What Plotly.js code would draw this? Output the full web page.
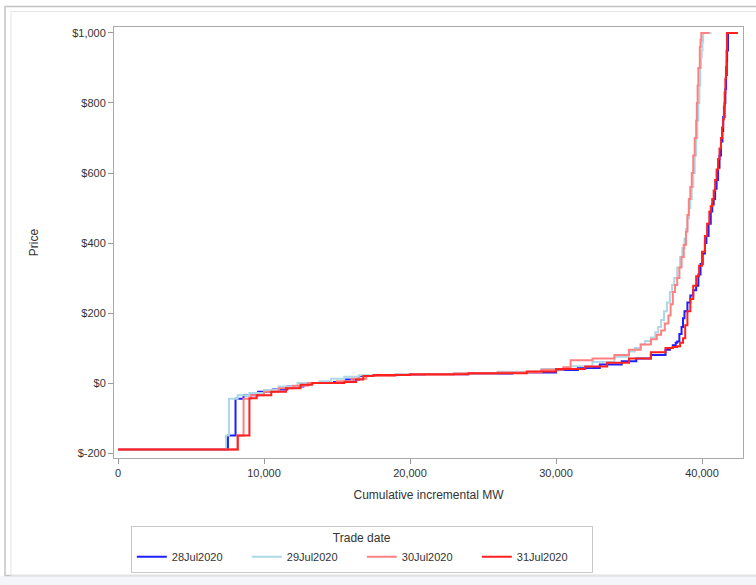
<!DOCTYPE html>
<html>
<head>
<meta charset="utf-8">
<script src="https://cdn.plot.ly/plotly-3.0.1.min.js"></script>
<style>html,body{margin:0;padding:0;background:#fff;}#chart{width:756px;height:585px;}</style>
</head>
<body>
<div id="chart"></div>
<script>
// Cumulative incremental MW (x) and price (y) for each trade date
const seriesNames = ["28Jul2020", "29Jul2020", "30Jul2020", "31Jul2020"];

const mw28 = [0, 7530, 8050, 8600, 9600, 10600, 11600, 12700, 14800, 15600, 16500, 17800, 21000, 24000, 27000, 30000, 31500, 33000, 34500, 35500, 36500, 37500, 37800, 38000, 38200, 38300, 38450, 38600, 38700, 38800, 39000, 39200, 39400, 39600, 39750, 39900, 40050, 40200, 40300, 40450, 40600, 40700, 40800, 40900, 41000, 41100, 41200, 41300, 41400, 41450, 41550, 41600, 41650, 41700, 41720, 41780, 42450];
const price28 = [-190, -150, -45, -35, -25, -18, -10, 0, 3, 10, 20, 23, 25, 27, 30, 37, 43, 53, 62, 70, 80, 95, 100, 108, 115, 119, 140, 160, 185, 205, 230, 250, 265, 278, 310, 340, 370, 400, 420, 455, 490, 510, 526, 555, 580, 615, 650, 690, 720, 760, 800, 840, 880, 920, 950, 1000, 1000];

const mw29 = [0, 7400, 7600, 8200, 9000, 10000, 11000, 12300, 13800, 14600, 15500, 16500, 19000, 23000, 26000, 29000, 31000, 32500, 34000, 35000, 35400, 35800, 36100, 36500, 36800, 37000, 37200, 37400, 37600, 37800, 37950, 38100, 38300, 38500, 38650, 38800, 38900, 39000, 39100, 39200, 39300, 39400, 39500, 39600, 39680, 39750, 39820, 39880, 39930, 39980, 40030, 40080, 40650];
const price29 = [-190, -150, -45, -35, -28, -20, -10, 0, 5, 12, 18, 22, 25, 28, 32, 40, 48, 60, 75, 90, 100, 110, 120, 130, 145, 160, 180, 205, 230, 260, 280, 300, 330, 360, 385, 412, 440, 470, 500, 526, 560, 600, 650, 700, 750, 800, 850, 900, 930, 950, 975, 1000, 1000];

const mw30 = [0, 8200, 8600, 9100, 10000, 11000, 12000, 13000, 15000, 16000, 17000, 19000, 23000, 26000, 29000, 30500, 31000, 32500, 34000, 35000, 35800, 36500, 36900, 37200, 37450, 37700, 37850, 38000, 38150, 38300, 38450, 38600, 38750, 38900, 39000, 39100, 39200, 39300, 39400, 39500, 39600, 39650, 39700, 39750, 39850, 39900, 39950, 40500];
const price30 = [-190, -150, -45, -35, -25, -15, -8, 0, 5, 12, 20, 24, 27, 30, 38, 45, 65, 70, 80, 95, 110, 125, 138, 150, 170, 193, 225, 260, 280, 300, 330, 360, 395, 432, 480, 526, 560, 600, 650, 700, 750, 800, 850, 900, 960, 980, 1000, 1000];

const mw31 = [0, 8200, 9000, 9500, 10500, 11500, 12500, 13300, 15500, 16300, 16800, 17500, 20000, 24000, 28000, 30000, 32000, 33500, 35000, 36500, 37500, 38000, 38300, 38500, 38700, 38850, 39000, 39200, 39400, 39600, 39800, 40000, 40200, 40350, 40500, 40600, 40700, 40800, 40900, 41000, 41100, 41200, 41300, 41370, 41450, 41500, 41550, 41600, 41640, 41680, 41710, 42400];
const price31 = [-190, -150, -43, -35, -25, -15, -5, 0, 3, 10, 20, 23, 25, 28, 33, 40, 47, 58, 70, 88, 100, 103, 105, 115, 128, 165, 205, 240, 278, 305, 335, 375, 420, 455, 489, 505, 526, 550, 580, 610, 640, 670, 700, 730, 753, 790, 830, 870, 903, 950, 1000, 1000];

const yTickVals = [-200, 0, 200, 400, 600, 800, 1000];
const yTickText = ["$-200", "$0", "$200", "$400", "$600", "$800", "$1,000"];
const xTickVals = [0, 10000, 20000, 30000, 40000];
const xTickText = ["0", "10,000", "20,000", "30,000", "40,000"];

const colors = ["#1f1fff", "#add8e6", "#ff8080", "#ff2020"];
const xs = [mw28, mw29, mw30, mw31];
const ys = [price28, price29, price30, price31];

const traces = seriesNames.map((n, i) => ({
  type: "scatter",
  mode: "lines",
  name: n,
  x: xs[i],
  y: ys[i],
  line: {color: colors[i], width: 2, shape: "hv"}
}));

const F = "Liberation Sans, Arial, sans-serif";
const layout = {
  width: 756, height: 585,
  margin: {l: 114, r: 13, t: 27, b: 125},
  paper_bgcolor: "#ffffff",
  plot_bgcolor: "#ffffff",
  font: {family: F, size: 11, color: "#333"},
  showlegend: true,
  xaxis: {
    range: [-274, 42808],
    tickvals: xTickVals, ticktext: xTickText,
    ticks: "outside", ticklen: 5, tickcolor: "#999",
    showline: true, linecolor: "#aaaaaa", linewidth: 1, mirror: true,
    showgrid: false, zeroline: false,
    tickfont: {size: 11, color: "#333"},
    title: {text: "Cumulative incremental MW", font: {size: 12, color: "#333"}, standoff: 12}
  },
  yaxis: {
    range: [-214, 1017],
    tickvals: yTickVals, ticktext: yTickText,
    ticks: "outside", ticklen: 5, tickcolor: "#999",
    showline: true, linecolor: "#aaaaaa", linewidth: 1, mirror: true,
    showgrid: false, zeroline: false,
    tickfont: {size: 11, color: "#333"},
    title: {text: "Price", font: {size: 12, color: "#333"}, standoff: 30}
  },
  legend: {
    orientation: "h",
    x: 0.394, xanchor: "center",
    y: -0.157, yanchor: "top",
    bordercolor: "#c8c8c8", borderwidth: 1,
    bgcolor: "#ffffff",
    font: {size: 11, color: "#333"},
    title: {text: "Trade date", side: "top center", font: {size: 12, color: "#333"}},
    entrywidth: 70, entrywidthmode: "pixels",
    tracegroupgap: 0,
    traceorder: "normal"
  },
  shapes: [
    {type: "rect", xref: "paper", yref: "paper", x0: -0.25, x1: 1.1, y0: -0.2725, y1: -0.4, fillcolor: "#f3f5fa", line: {width: 0}, layer: "below"},
    {type: "rect", xref: "paper", yref: "paper", x0: (5 - 114) / 629, x1: (760 - 114) / 629, y0: (460 - 578) / 433, y1: (460 - 6.5) / 433, line: {color: "#c4c4c4", width: 1.5}, layer: "below"},
    {type: "rect", xref: "paper", yref: "paper", x0: (11 - 114) / 629, x1: (760 - 114) / 629, y0: (460 - 578) / 433, y1: (460 - 11.5) / 433, line: {color: "#e4e4e4", width: 1}, layer: "below"}
  ]
};

Plotly.newPlot("chart", traces, layout, {displayModeBar: false, staticPlot: true});
</script>
</body>
</html>
